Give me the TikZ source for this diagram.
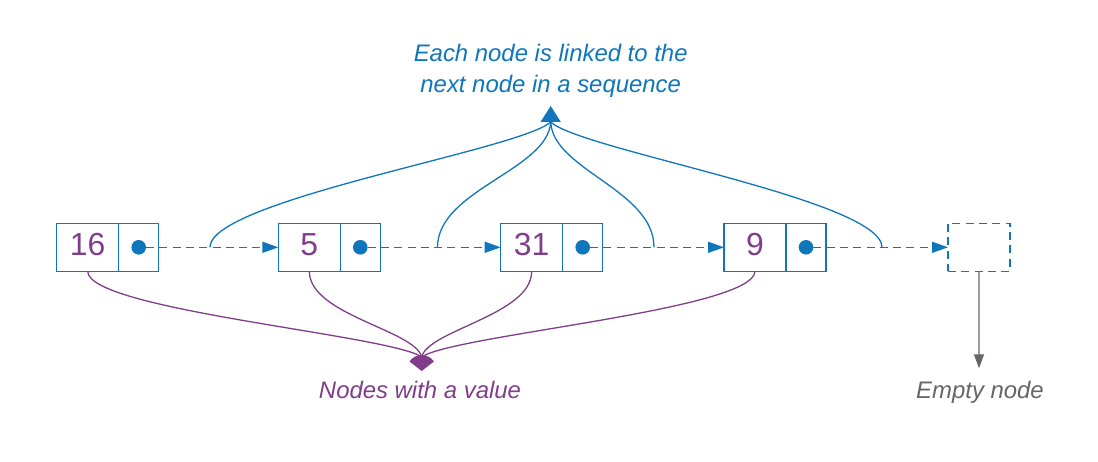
\documentclass[tikz,border=0pt]{standalone}
\usepackage{fontspec}
\setmainfont{Liberation Sans}
\usetikzlibrary{arrows.meta,calc}
\definecolor{cblue}{RGB}{16,118,187}
\definecolor{cpurple}{RGB}{128,62,138}
\definecolor{cgray}{RGB}{102,102,102}
\tikzset{
 cell/.style={draw=cblue, line width=1.4bp, minimum height=48bp, inner sep=0pt, outer sep=0pt, anchor=north west},
 valcell/.style={cell, minimum width=62bp, text=cpurple, font=\fontsize{32}{32}\selectfont, text height=22bp, text depth=6bp},
 ptrcell/.style={cell, minimum width=40bp},
 emptycell/.style={cell, minimum width=62bp, dash pattern=on 8bp off 5.3bp},
 dot/.style={circle, fill=cblue, minimum size=14.6bp, inner sep=0pt, outer sep=0pt},
 nextlink/.style={draw=cblue, line width=1.4bp, dash pattern=on 8bp off 5.3bp, -{Triangle[length=16bp,width=11bp]}},
 seqcurve/.style={draw=cblue, line width=1.3bp},
 valcurve/.style={draw=cpurple, line width=1.3bp},
 emptyarrow/.style={draw=cgray, line width=1.3bp, -{Triangle[length=14bp,width=10bp]}},
 lbl/.style={font=\fontsize{24}{31}\selectfont\itshape, inner sep=0pt},
}
\begin{document}
\begin{tikzpicture}[x=1bp,y=-1bp]
\useasboundingbox (0,0) rectangle (1098,462);

% list nodes
\node[valcell] (v1) at (56.7,223.3) {16};
\node[ptrcell] (p1) at (v1.north east) {};
\node[valcell] (v2) at (278.3,223.3) {5};
\node[ptrcell] (p2) at (v2.north east) {};
\node[valcell] (v3) at (500.7,223.3) {31};
\node[ptrcell] (p3) at (v3.north east) {};
\node[valcell] (v4) at (724,223.3) {9};
\node[ptrcell] (p4) at (v4.north east) {};
\node[emptycell] (e) at (948,223.3) {};

\node[dot] (d1) at (p1.center) {};
\node[dot] (d2) at (p2.center) {};
\node[dot] (d3) at (p3.center) {};
\node[dot] (d4) at (p4.center) {};

% next links
\draw[nextlink] (d1.east) -- (v2.west);
\draw[nextlink] (d2.east) -- (v3.west);
\draw[nextlink] (d3.east) -- (v4.west);
\draw[nextlink] (d4.east) -- (e.west);

% sequence label and curves
\node[lbl, text=cblue, align=center, anchor=base] (seqlbl) at (550.7,92.7) {Each node is linked to the\\next node in a sequence};
\coordinate (s1) at (210,247.3);
\coordinate (s2) at (437.5,247.3);
\coordinate (s3) at (654,247.3);
\coordinate (s4) at (882,247.3);
\coordinate (apex) at (550.7,122);
\coordinate (apextip) at (550.7,106);
\draw[seqcurve] (s1) .. controls (210,200) and (520,150) .. (apex);
\draw[seqcurve] (s2) .. controls (437.5,190) and (548,170) .. (apex);
\draw[seqcurve] (s3) .. controls (654,190) and (553,170) .. (apex);
\draw[seqcurve] (s4) .. controls (882,200) and (580,150) .. (apex);
\draw[seqcurve, -{Triangle[length=16bp,width=20bp]}] (apex) -- (apextip);

% value curves
\coordinate (pmeet) at (421.7,357);
\draw[valcurve] (v1.south) .. controls (87.7,310) and (390,335) .. (pmeet);
\draw[valcurve] (v2.south) .. controls (309.5,315) and (415,330) .. (pmeet);
\draw[valcurve] (v3.south) .. controls (531.7,315) and (428,330) .. (pmeet);
\draw[valcurve] (v4.south) .. controls (753.7,310) and (453,335) .. (pmeet);
\fill[cpurple] (421.7,371) -- (409.5,361.5) .. controls (415,353) and (428.4,353) .. (433.9,361.5) -- cycle;
\node[lbl, text=cpurple, anchor=base] (vallbl) at (420,398.5) {Nodes with a value};

% empty node
\coordinate (etip) at (979,368.3);
\draw[emptyarrow] (e.south) -- (etip);
\node[lbl, text=cgray, anchor=base] (emptylbl) at (980,398.5) {Empty node};
\end{tikzpicture}
\end{document}
